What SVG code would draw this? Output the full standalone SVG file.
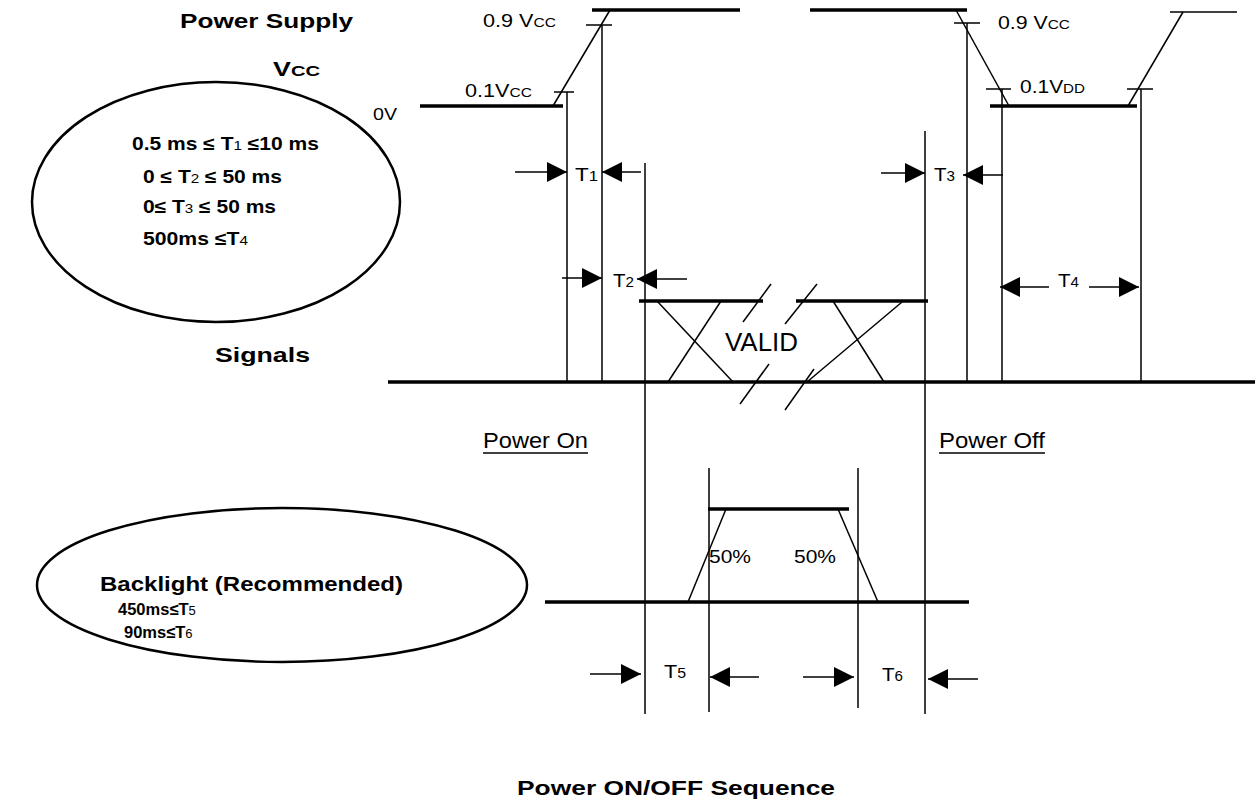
<svg xmlns="http://www.w3.org/2000/svg" width="1255" height="803" viewBox="0 0 1255 803">
<style>
text{font-family:"Liberation Sans",Arial,sans-serif;fill:#000}
.b{font-weight:bold}
.s{font-weight:normal}
.thin{stroke:#000;stroke-width:1.5;fill:none}
.thick{stroke:#000;stroke-width:3.5;fill:none}
.arr{stroke:#000;stroke-width:1.5;fill:none;marker-end:url(#ah)}
.ell{stroke:#000;stroke-width:2.5;fill:none}
.tl{font-size:19px}
</style>
<defs>
<marker id="ah" markerUnits="userSpaceOnUse" viewBox="0 0 20 20" refX="20" refY="10" markerWidth="20" markerHeight="20" orient="auto">
<path d="M0,0 L20,10 L0,20 z" fill="#000"/>
</marker>
</defs>
<rect width="1255" height="803" fill="#fff"/>

<g id="labels-left">
<text class="b" x="180" y="28" font-size="21" textLength="173" lengthAdjust="spacingAndGlyphs">Power Supply</text>
<text class="b" x="273" y="76" font-size="20" textLength="47" lengthAdjust="spacingAndGlyphs">V<tspan font-size="15">CC</tspan></text>
<text x="373" y="120" font-size="16" textLength="24" lengthAdjust="spacingAndGlyphs">0V</text>
<text class="b" x="215" y="362" font-size="21" textLength="95" lengthAdjust="spacingAndGlyphs">Signals</text>
</g>

<g id="spec-ellipse">
<ellipse class="ell" cx="216" cy="202" rx="184" ry="120"/>
<text class="b" x="132" y="150" font-size="18" textLength="187" lengthAdjust="spacingAndGlyphs">0.5 ms ≤ T<tspan class="s" font-size="13">1</tspan> ≤10 ms</text>
<text class="b" x="143" y="183" font-size="18" textLength="139" lengthAdjust="spacingAndGlyphs">0 ≤ T<tspan class="s" font-size="13">2</tspan> ≤ 50 ms</text>
<text class="b" x="143" y="213" font-size="18" textLength="133" lengthAdjust="spacingAndGlyphs">0≤ T<tspan class="s" font-size="13">3</tspan> ≤ 50 ms</text>
<text class="b" x="143" y="245" font-size="18" textLength="105" lengthAdjust="spacingAndGlyphs">500ms ≤T<tspan class="s" font-size="13">4</tspan></text>
</g>

<g id="vcc-waveform">
<line class="thick" x1="420" y1="106" x2="563" y2="106"/>
<line class="thin" x1="553" y1="106" x2="610" y2="10"/>
<line class="thick" x1="592" y1="10" x2="740" y2="10"/>
<line class="thin" x1="586" y1="25" x2="612" y2="25"/>
<line class="thin" x1="554" y1="92" x2="574" y2="92"/>
<line class="thick" x1="810" y1="10" x2="967" y2="10"/>
<line class="thin" x1="956" y1="10" x2="1009" y2="106"/>
<line class="thin" x1="954" y1="23" x2="980" y2="23"/>
<line class="thin" x1="986" y1="89" x2="1011" y2="89"/>
<line class="thick" x1="990" y1="106" x2="1137" y2="106"/>
<line class="thin" x1="1128" y1="106" x2="1183" y2="12"/>
<line class="thin" x1="1127" y1="89" x2="1153" y2="89"/>
<line class="thin" x1="1170" y1="12" x2="1237" y2="12"/>
<text x="483" y="27" font-size="18" textLength="73" lengthAdjust="spacingAndGlyphs">0.9 V<tspan font-size="13">CC</tspan></text>
<text x="465" y="97" font-size="18" textLength="67" lengthAdjust="spacingAndGlyphs">0.1V<tspan font-size="13">CC</tspan></text>
<text x="998" y="29" font-size="18" textLength="72" lengthAdjust="spacingAndGlyphs">0.9 V<tspan font-size="13">CC</tspan></text>
<text x="1020" y="93" font-size="18" textLength="65" lengthAdjust="spacingAndGlyphs">0.1V<tspan font-size="13">DD</tspan></text>
</g>

<g id="signals-waveform">
<line class="thick" x1="388" y1="382" x2="1255" y2="382"/>
<line class="thick" x1="639" y1="301" x2="763" y2="301"/>
<line class="thick" x1="796" y1="301" x2="928" y2="301"/>
<line class="thin" x1="657" y1="301" x2="733" y2="382"/>
<line class="thin" x1="721" y1="301" x2="668" y2="382"/>
<line class="thin" x1="833" y1="301" x2="884" y2="382"/>
<line class="thin" x1="902" y1="302" x2="807" y2="382"/>
<line class="thin" x1="743" y1="322" x2="771" y2="284"/>
<line class="thin" x1="785" y1="324" x2="817" y2="284"/>
<line class="thin" x1="740" y1="404" x2="769" y2="364"/>
<line class="thin" x1="785" y1="410" x2="814" y2="369"/>
<text x="725" y="351" font-size="26" textLength="73" lengthAdjust="spacingAndGlyphs">VALID</text>
</g>

<g id="phase-labels">
<text x="483" y="448" font-size="22" textLength="105" lengthAdjust="spacingAndGlyphs">Power On</text>
<line class="thin" x1="483" y1="453" x2="588" y2="453"/>
<text x="939" y="448" font-size="22" textLength="106" lengthAdjust="spacingAndGlyphs">Power Off</text>
<line class="thin" x1="939" y1="453" x2="1045" y2="453"/>
</g>

<g id="backlight-waveform">
<line class="thick" x1="545" y1="602" x2="969" y2="602"/>
<line class="thick" x1="708" y1="509" x2="849" y2="509"/>
<line class="thin" x1="726" y1="509" x2="688" y2="602"/>
<line class="thin" x1="838" y1="509" x2="878" y2="602"/>
<text x="709" y="563" font-size="18" textLength="42" lengthAdjust="spacingAndGlyphs">50%</text>
<text x="794" y="563" font-size="18" textLength="42" lengthAdjust="spacingAndGlyphs">50%</text>
</g>

<g id="backlight-ellipse">
<ellipse class="ell" cx="282" cy="585" rx="245" ry="77"/>
<text class="b" x="100" y="591" font-size="20" textLength="303" lengthAdjust="spacingAndGlyphs">Backlight (Recommended)</text>
<text class="b" x="118" y="615" font-size="16.5">450ms≤T<tspan class="s" font-size="13">5</tspan></text>
<text class="b" x="124" y="638" font-size="16.5">90ms≤T<tspan class="s" font-size="13">6</tspan></text>
</g>

<g id="connectors">
<line class="thin" x1="567" y1="92" x2="567" y2="382"/>
<line class="thin" x1="602" y1="25" x2="602" y2="382"/>
<line class="thin" x1="645" y1="163" x2="645" y2="714"/>
<line class="thin" x1="925" y1="131" x2="925" y2="714"/>
<line class="thin" x1="967" y1="23" x2="967" y2="382"/>
<line class="thin" x1="1002" y1="89" x2="1002" y2="382"/>
<line class="thin" x1="1141" y1="89" x2="1141" y2="383"/>
<line class="thin" x1="709" y1="468" x2="709" y2="712"/>
<line class="thin" x1="858" y1="468" x2="858" y2="708"/>
<line class="arr" x1="515" y1="172" x2="567" y2="172"/>
<line class="arr" x1="641" y1="172" x2="602" y2="172"/>
<line class="arr" x1="562" y1="278" x2="602" y2="278"/>
<line class="arr" x1="687" y1="279" x2="637" y2="279"/>
<line class="arr" x1="881" y1="173" x2="925" y2="173"/>
<line class="arr" x1="1003" y1="175" x2="963" y2="175"/>
<line class="arr" x1="1049" y1="287" x2="1000" y2="287"/>
<line class="arr" x1="1089" y1="287" x2="1139" y2="287"/>
<line class="arr" x1="590" y1="674" x2="641" y2="674"/>
<line class="arr" x1="759" y1="677" x2="710" y2="677"/>
<line class="arr" x1="803" y1="677" x2="854" y2="677"/>
<line class="arr" x1="978" y1="679" x2="928" y2="679"/>
</g>

<g id="interval-labels">
<text class="tl" x="575" y="181" textLength="23" lengthAdjust="spacingAndGlyphs">T<tspan font-size="14">1</tspan></text>
<text class="tl" x="613" y="287" textLength="21" lengthAdjust="spacingAndGlyphs">T<tspan font-size="14">2</tspan></text>
<text class="tl" x="934" y="181" textLength="21" lengthAdjust="spacingAndGlyphs">T<tspan font-size="14">3</tspan></text>
<text class="tl" x="1058" y="287" textLength="21" lengthAdjust="spacingAndGlyphs">T<tspan font-size="14">4</tspan></text>
<text class="tl" x="664" y="678" textLength="22" lengthAdjust="spacingAndGlyphs">T<tspan font-size="14">5</tspan></text>
<text class="tl" x="882" y="681" textLength="21" lengthAdjust="spacingAndGlyphs">T<tspan font-size="14">6</tspan></text>
</g>

<g id="title">
<text class="b" x="517" y="795" font-size="21" textLength="318" lengthAdjust="spacingAndGlyphs">Power ON/OFF Sequence</text>
</g>
</svg>
